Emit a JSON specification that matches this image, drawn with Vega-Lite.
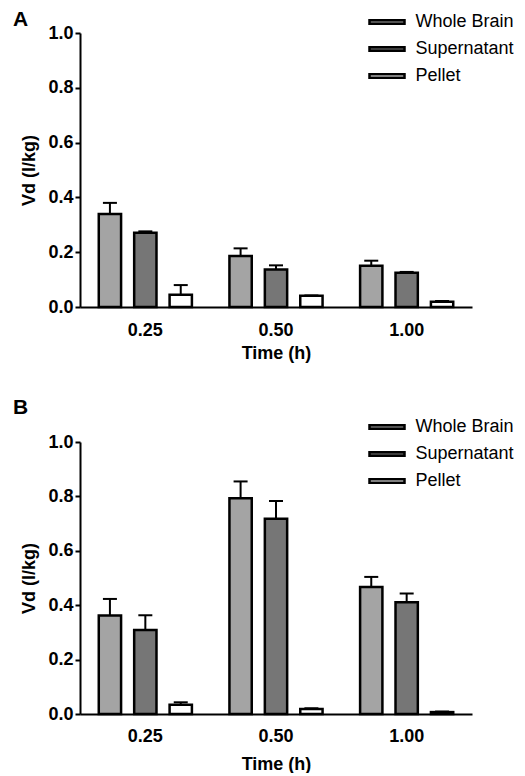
{
  "$schema": "https://vega.github.io/schema/vega-lite/v6.json",
  "background": "white",
  "padding": {"left": 12, "top": 9, "right": 5, "bottom": 0},
  "config": {
    "font": "Liberation Sans",
    "view": {"stroke": null},
    "concat": {"spacing": 35},
    "axis": {
      "domainColor": "black", "domainWidth": 2, "tickColor": "black", "tickWidth": 2,
      "labelColor": "black", "titleColor": "black", "labelFont": "Liberation Sans", "titleFont": "Liberation Sans",
      "labelFontSize": 18, "labelFontWeight": "bold", "titleFontSize": 18, "titleFontWeight": "bold", "grid": false
    },
    "legend": {
      "labelFont": "Liberation Sans", "labelFontSize": 18, "labelColor": "black",
      "symbolType": "M-3.5,-0.35H3.5V0.35H-3.5Z", "symbolSize": 100, "symbolStrokeColor": "black", "symbolStrokeWidth": 2.5,
      "symbolOpacity": 1, "rowPadding": 9, "labelOffset": 19.5, "padding": 0
    }
  },
  "datasets": {
    "a": [
      {"time": "0.25", "sample": "Whole Brain", "value": 0.339, "upper": 0.380},
      {"time": "0.25", "sample": "Supernatant", "value": 0.271, "upper": 0.276},
      {"time": "0.25", "sample": "Pellet", "value": 0.045, "upper": 0.080},
      {"time": "0.50", "sample": "Whole Brain", "value": 0.186, "upper": 0.214},
      {"time": "0.50", "sample": "Supernatant", "value": 0.137, "upper": 0.152},
      {"time": "0.50", "sample": "Pellet", "value": 0.041, "upper": 0.042},
      {"time": "1.00", "sample": "Whole Brain", "value": 0.151, "upper": 0.169},
      {"time": "1.00", "sample": "Supernatant", "value": 0.125, "upper": 0.128},
      {"time": "1.00", "sample": "Pellet", "value": 0.019, "upper": 0.022}
    ],
    "b": [
      {"time": "0.25", "sample": "Whole Brain", "value": 0.362, "upper": 0.423},
      {"time": "0.25", "sample": "Supernatant", "value": 0.309, "upper": 0.363},
      {"time": "0.25", "sample": "Pellet", "value": 0.034, "upper": 0.043},
      {"time": "0.50", "sample": "Whole Brain", "value": 0.793, "upper": 0.855},
      {"time": "0.50", "sample": "Supernatant", "value": 0.718, "upper": 0.783},
      {"time": "0.50", "sample": "Pellet", "value": 0.018, "upper": 0.021},
      {"time": "1.00", "sample": "Whole Brain", "value": 0.467, "upper": 0.504},
      {"time": "1.00", "sample": "Supernatant", "value": 0.411, "upper": 0.443},
      {"time": "1.00", "sample": "Pellet", "value": 0.007, "upper": 0.009}
    ]
  },
  "vconcat": [
    {
      "title": {"text": "A", "anchor": "start", "frame": "bounds", "fontSize": 21, "fontWeight": "bold", "font": "Liberation Sans", "color": "black", "dx": -8, "offset": -17},
      "width": 392, "height": 274,
      "data": {"name": "a"},
      "encoding": {
        "x": {"field": "time", "type": "nominal", "sort": ["0.25", "0.50", "1.00"], "title": "Time (h)",
              "scale": {"paddingInner": 0, "paddingOuter": 0},
              "axis": {"labelAngle": 0, "ticks": false, "labelPadding": 14, "titlePadding": 5}},
        "xOffset": {"field": "sample", "type": "nominal", "sort": ["Whole Brain", "Supernatant", "Pellet"],
                    "scale": {"paddingInner": 0.37, "paddingOuter": 0.53}}
      },
      "layer": [
        {"mark": {"type": "rule", "color": "black", "strokeWidth": 2},
         "encoding": {"y": {"field": "value", "type": "quantitative"}, "y2": {"field": "upper"}}},
        {"mark": {"type": "tick", "color": "black", "thickness": 2, "size": 14, "opacity": 1},
         "encoding": {"y": {"field": "upper", "type": "quantitative"}}},
        {"mark": {"type": "bar", "stroke": "black", "strokeWidth": 2.5},
         "encoding": {
           "y": {"field": "value", "type": "quantitative", "title": "Vd (l/kg)",
                 "scale": {"domain": [0, 1]},
                 "axis": {"values": [0, 0.2, 0.4, 0.6, 0.8, 1.0], "format": ".1f", "tickSize": 5, "labelPadding": 2, "titlePadding": 9}},
           "fill": {"field": "sample", "type": "nominal", "sort": ["Whole Brain", "Supernatant", "Pellet"],
                    "scale": {"domain": ["Whole Brain", "Supernatant", "Pellet"], "range": ["#a4a4a4", "#767676", "#ffffff"]},
                    "legend": {"title": null, "orient": "none", "legendX": 298, "legendY": -20}}
         }}
      ]
    },
    {
      "title": {"text": "B", "anchor": "start", "frame": "bounds", "fontSize": 21, "fontWeight": "bold", "font": "Liberation Sans", "color": "black", "dx": -8, "offset": 0},
      "width": 392, "height": 272,
      "data": {"name": "b"},
      "encoding": {
        "x": {"field": "time", "type": "nominal", "sort": ["0.25", "0.50", "1.00"], "title": "Time (h)",
              "scale": {"paddingInner": 0, "paddingOuter": 0},
              "axis": {"labelAngle": 0, "ticks": false, "labelPadding": 13, "titlePadding": 10}},
        "xOffset": {"field": "sample", "type": "nominal", "sort": ["Whole Brain", "Supernatant", "Pellet"],
                    "scale": {"paddingInner": 0.37, "paddingOuter": 0.53}}
      },
      "layer": [
        {"mark": {"type": "rule", "color": "black", "strokeWidth": 2},
         "encoding": {"y": {"field": "value", "type": "quantitative"}, "y2": {"field": "upper"}}},
        {"mark": {"type": "tick", "color": "black", "thickness": 2, "size": 14, "opacity": 1},
         "encoding": {"y": {"field": "upper", "type": "quantitative"}}},
        {"mark": {"type": "bar", "stroke": "black", "strokeWidth": 2.5},
         "encoding": {
           "y": {"field": "value", "type": "quantitative", "title": "Vd (l/kg)",
                 "scale": {"domain": [0, 1]},
                 "axis": {"values": [0, 0.2, 0.4, 0.6, 0.8, 1.0], "format": ".1f", "tickSize": 5, "labelPadding": 2, "titlePadding": 9}},
           "fill": {"field": "sample", "type": "nominal", "sort": ["Whole Brain", "Supernatant", "Pellet"],
                    "scale": {"domain": ["Whole Brain", "Supernatant", "Pellet"], "range": ["#a4a4a4", "#767676", "#ffffff"]},
                    "legend": {"title": null, "orient": "none", "legendX": 298, "legendY": -24}}
         }}
      ]
    }
  ],
  "resolve": {"scale": {"y": "independent", "x": "independent", "fill": "independent"}, "legend": {"fill": "independent"}}
}
